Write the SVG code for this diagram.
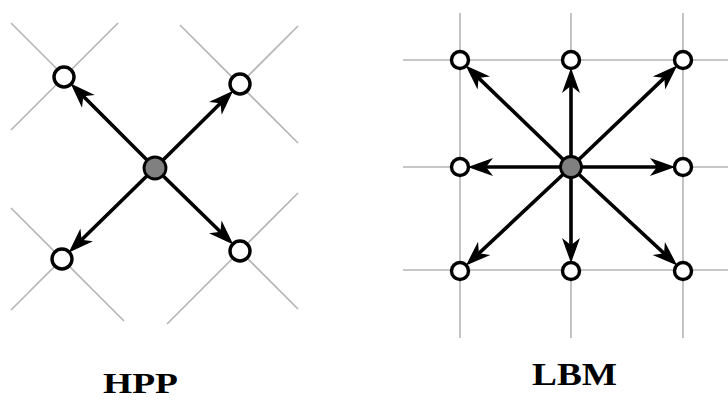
<svg xmlns="http://www.w3.org/2000/svg" width="728" height="400" viewBox="0 0 728 400">
<style>
.grid{stroke:#b4b4b4;stroke-width:1.6;fill:none}
.arr{stroke:#000;stroke-width:3.6;fill:none;marker-end:url(#ah)}
.node{fill:#fff;stroke:#000;stroke-width:3.4}
.ctr{fill:#808080;stroke:#000;stroke-width:2.8}
.lbl{font-family:"Liberation Serif","Times New Roman",serif;font-weight:bold;fill:#000}
</style>
<defs>
<marker id="ah" markerUnits="userSpaceOnUse" markerWidth="34" markerHeight="24" viewBox="-24 -12 34 24" refX="0" refY="0" orient="auto" overflow="visible">
<path d="M6,0 L-15,-7.5 L-9,0 L-15,7.5 Z" fill="#000" stroke="#000" stroke-width="1.4" stroke-linejoin="miter"/>
</marker>
</defs>
<g id="hpp-grid">
<line class="grid" x1="11" y1="23" x2="118" y2="130"/>
<line class="grid" x1="118" y1="23" x2="11" y2="130"/>
<line class="grid" x1="180" y1="25" x2="298" y2="143"/>
<line class="grid" x1="298" y1="26" x2="182" y2="142"/>
<line class="grid" x1="11" y1="208" x2="124" y2="321"/>
<line class="grid" x1="11" y1="310" x2="113" y2="208"/>
<line class="grid" x1="167" y1="324" x2="298" y2="193"/>
<line class="grid" x1="182" y1="193" x2="298" y2="309"/>
</g>
<g id="lbm-grid">
<line class="grid" x1="460" y1="13" x2="460" y2="338"/>
<line class="grid" x1="571" y1="13" x2="571" y2="338"/>
<line class="grid" x1="683" y1="13" x2="683" y2="338"/>
<line class="grid" x1="403" y1="60" x2="728" y2="60"/>
<line class="grid" x1="403" y1="167" x2="728" y2="167"/>
<line class="grid" x1="403" y1="270" x2="728" y2="270"/>
</g>
<g id="connectors">
<line class="arr" x1="155" y1="168" x2="76.3" y2="89.3"/>
<line class="arr" x1="155" y1="168" x2="227.5" y2="96.3"/>
<line class="arr" x1="155" y1="168" x2="74.5" y2="246.8"/>
<line class="arr" x1="155" y1="168" x2="227.5" y2="238.8"/>
<line class="arr" x1="571" y1="167" x2="571" y2="76"/>
<line class="arr" x1="571" y1="167" x2="571" y2="255"/>
<line class="arr" x1="571" y1="167" x2="476" y2="167"/>
<line class="arr" x1="571" y1="167" x2="667" y2="167"/>
<line class="arr" x1="571" y1="167" x2="471.5" y2="71.1"/>
<line class="arr" x1="571" y1="167" x2="671.4" y2="71.1"/>
<line class="arr" x1="571" y1="167" x2="471.7" y2="260.1"/>
<line class="arr" x1="571" y1="167" x2="671.3" y2="260.1"/>
</g>
<g id="hpp-center"><circle class="ctr" cx="155" cy="168" r="11"/></g>
<g id="hpp-n1"><circle class="node" cx="64" cy="77" r="10"/></g>
<g id="hpp-n2"><circle class="node" cx="240" cy="84" r="10"/></g>
<g id="hpp-n3"><circle class="node" cx="62" cy="259" r="10"/></g>
<g id="hpp-n4"><circle class="node" cx="240" cy="251" r="10"/></g>
<g id="lbm-center"><circle class="ctr" cx="571" cy="167" r="10.5"/></g>
<g id="lbm-n1"><circle class="node" cx="460" cy="60" r="8.5"/></g>
<g id="lbm-n2"><circle class="node" cx="571" cy="60" r="8.5"/></g>
<g id="lbm-n3"><circle class="node" cx="683" cy="60" r="8.5"/></g>
<g id="lbm-n4"><circle class="node" cx="460" cy="167" r="8.5"/></g>
<g id="lbm-n5"><circle class="node" cx="683" cy="167" r="8.5"/></g>
<g id="lbm-n6"><circle class="node" cx="460" cy="271" r="8.5"/></g>
<g id="lbm-n7"><circle class="node" cx="571" cy="271" r="8.5"/></g>
<g id="lbm-n8"><circle class="node" cx="683" cy="271" r="8.5"/></g>
<g id="labels">
<text class="lbl" x="103" y="393" font-size="29" textLength="75" lengthAdjust="spacingAndGlyphs">HPP</text>
<text class="lbl" x="532" y="385" font-size="32" textLength="85" lengthAdjust="spacingAndGlyphs">LBM</text>
</g>
</svg>
